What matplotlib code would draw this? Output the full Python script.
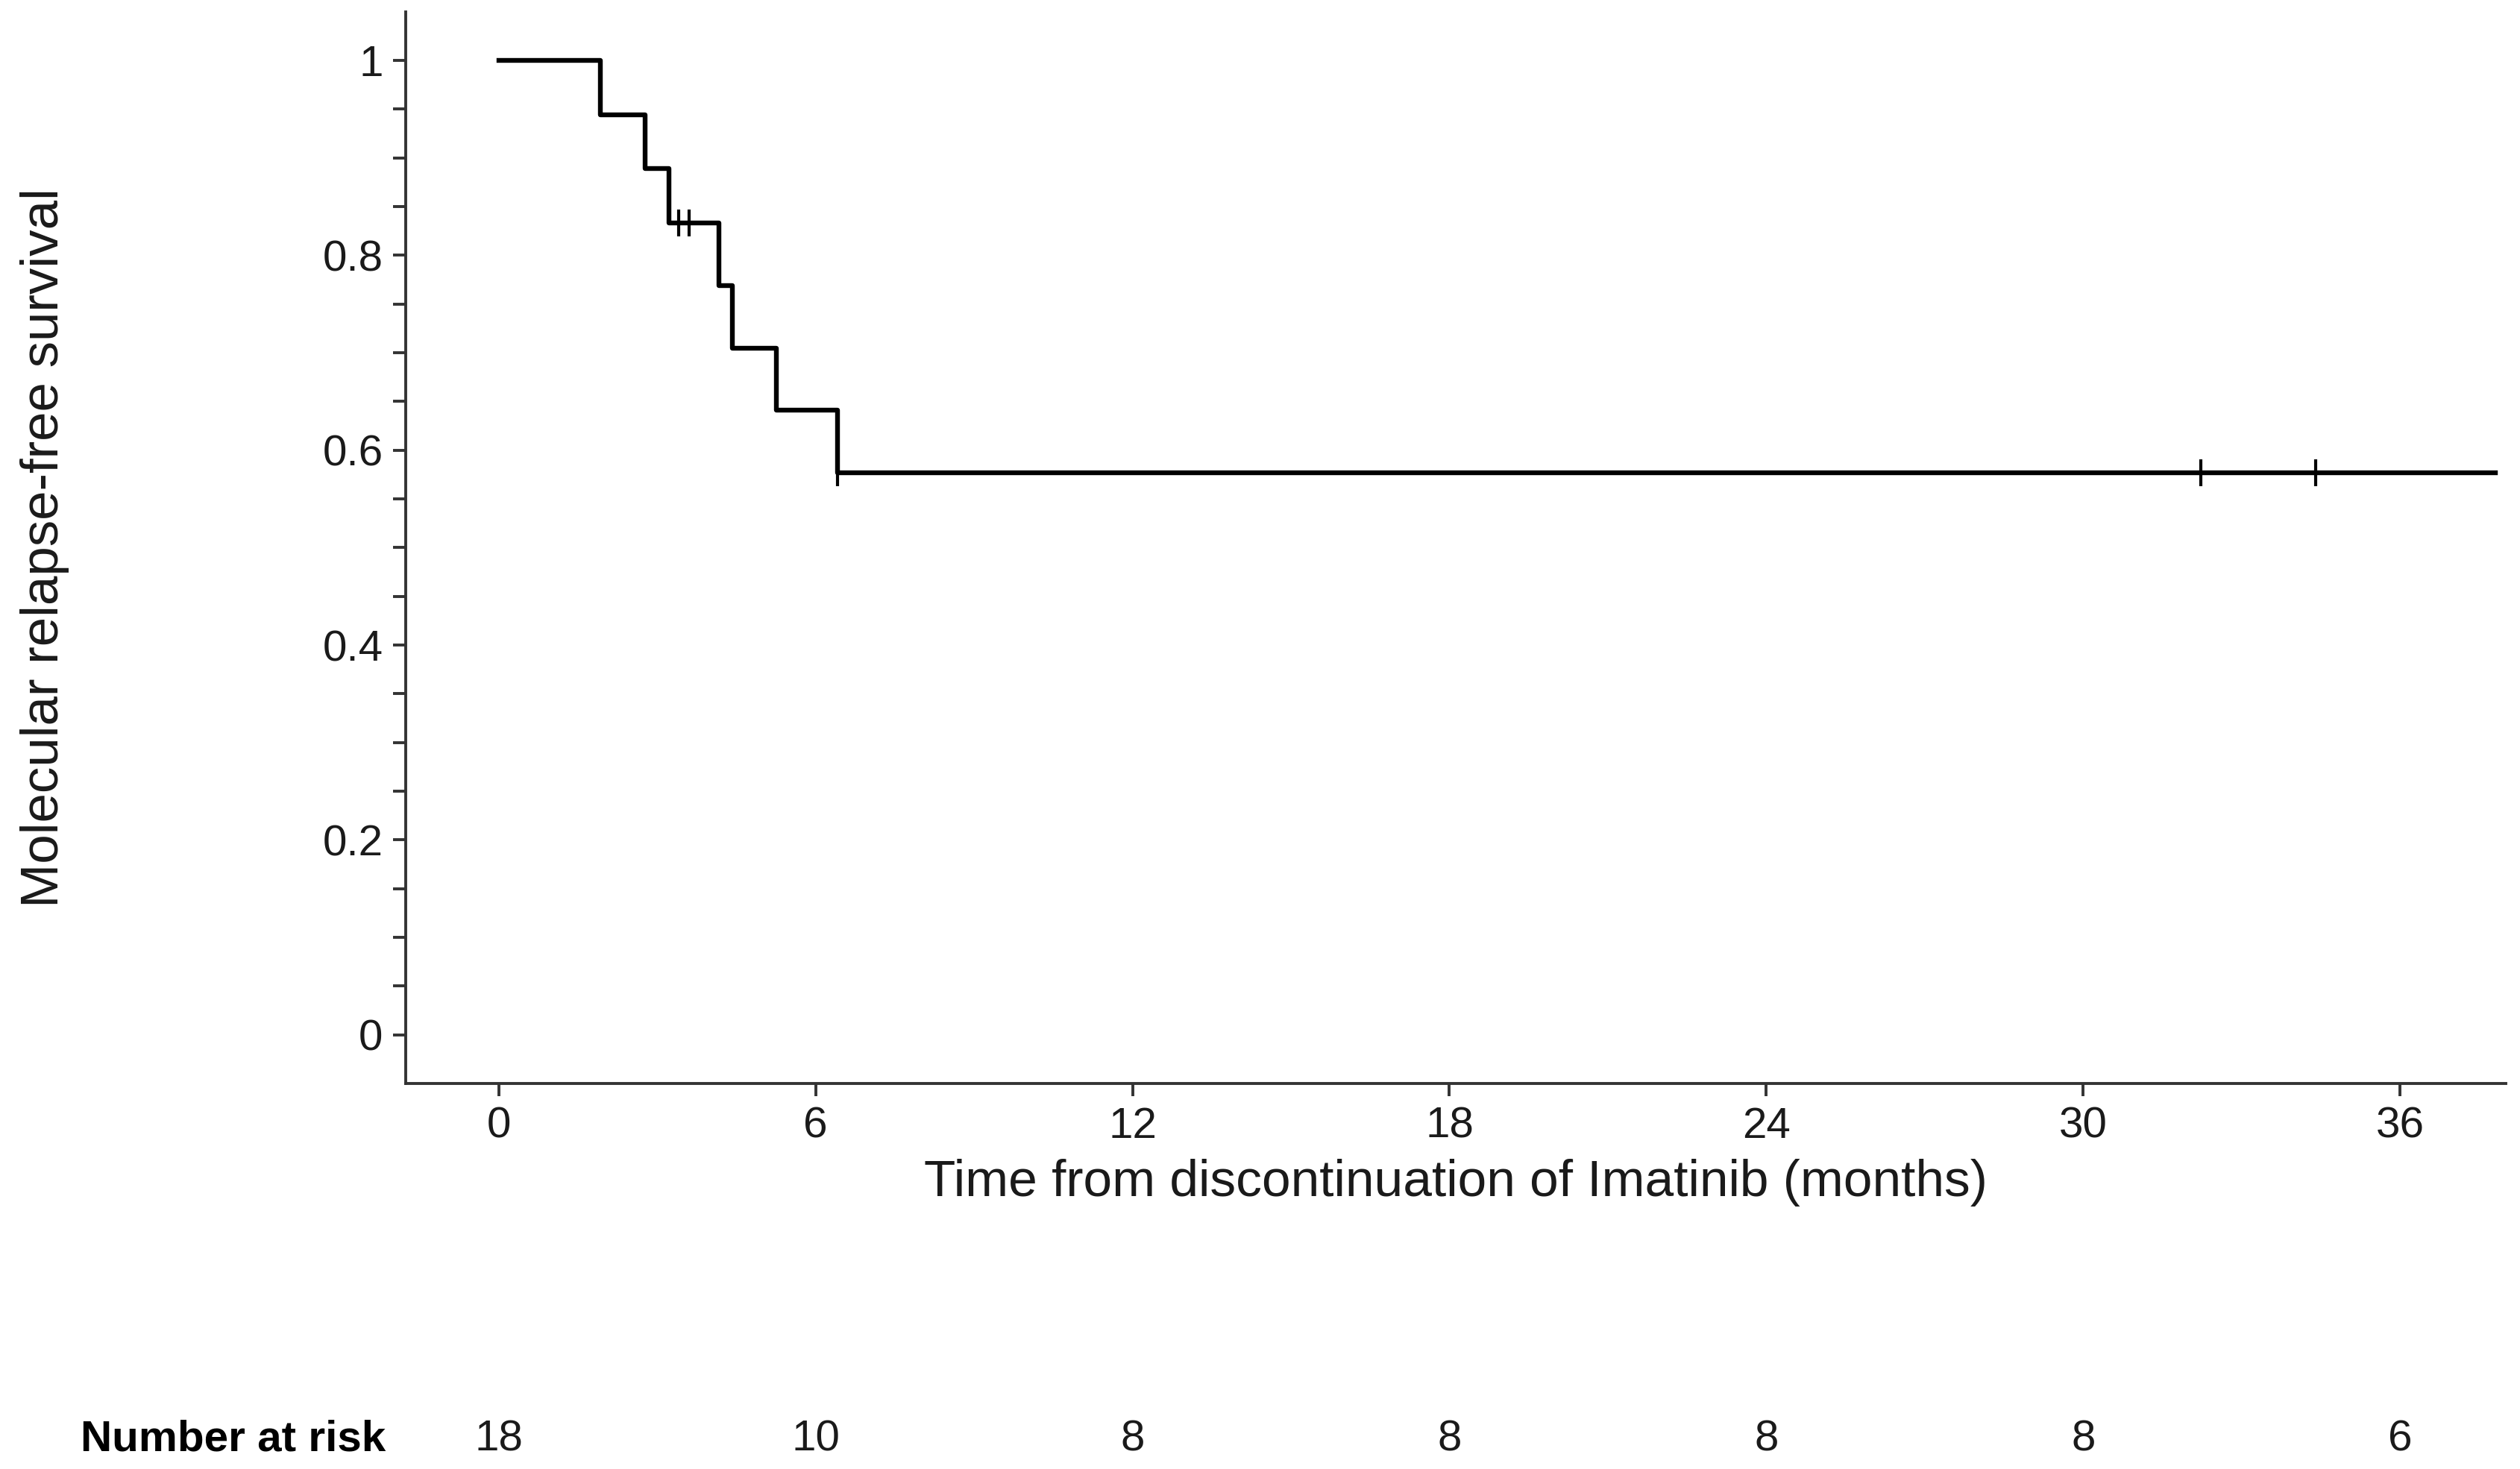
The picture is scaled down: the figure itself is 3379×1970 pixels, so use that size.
"""
Kaplan-Meier curve: molecular relapse-free survival after imatinib stop
"""

import matplotlib.pyplot as plt
import numpy as np

plt.rcParams['font.family'] = ['Liberation Sans', 'DejaVu Sans']

# Données
step_times = [0, 1.93, 2.77, 3.22, 4.17, 4.42, 5.25, 6.42, 37.8]
step_surv = [1.0, 0.944, 0.889, 0.833, 0.769, 0.705, 0.641, 0.577, 0.577]
censor_times = [3.41, 3.60, 6.42, 32.23, 34.4]

risk_times = [0, 6, 12, 18, 24, 30, 36]
risk_counts = [18, 10, 8, 8, 8, 8, 6]

x_ticks = [0, 6, 12, 18, 24, 30, 36]
y_ticks = [0, 0.2, 0.4, 0.6, 0.8, 1]
y_tick_labels = ['0', '0.2', '0.4', '0.6', '0.8', '1']

# Survie au moment de chaque censure (lecture sur la courbe en escalier)
idx = np.searchsorted(step_times, censor_times, side='right') - 1
censor_surv = [step_surv[i] for i in idx]

axis_col = '#333333'
text_col = '#1a1a1a'

fig = plt.figure(figsize=(16.9, 9.85), dpi=200)
ax = fig.add_axes([0.161, 0.2624, 0.833, 0.7296])

ax.step(step_times, step_surv, where='post', color='black', lw=2.3)
ax.plot(censor_times, censor_surv, ls='none', marker='|', ms=13,
        mew=1.5, color='black')

ax.set_xlim(-1.76, 38.0)
ax.set_ylim(-0.05, 1.05)
ax.set_xticks(x_ticks)
ax.set_yticks(y_ticks)
ax.set_yticklabels(y_tick_labels)
ax.set_yticks(np.arange(0, 1.001, 0.05), minor=True)

for side in ['top', 'right']:
    ax.spines[side].set_visible(False)
for side in ['left', 'bottom']:
    ax.spines[side].set_color(axis_col)
    ax.spines[side].set_linewidth(1.4)

ax.tick_params(axis='both', which='both', direction='out', length=6,
               width=1.4, color=axis_col, labelsize=21, labelcolor=text_col,
               pad=5)

ax.set_xlabel('Time from discontinuation of Imatinib (months)', fontsize=25,
              color=text_col, labelpad=6)
ax.set_ylabel('Molecular relapse-free survival', fontsize=25.5,
              color=text_col)
ax.yaxis.label.set_va('center')
ax.yaxis.set_label_coords(-0.172, 0.5)

# Nombre de sujets à risque
risk_y = 1 - 1930 / 1970
for t, n in zip(risk_times, risk_counts):
    ax.annotate(str(n), xy=(t, risk_y), xycoords=('data', 'figure fraction'),
                ha='center', va='center', fontsize=21, color=text_col,
                annotation_clip=False)
fig.text(108 / 3380, risk_y, 'Number at risk', ha='left', va='center',
         fontsize=21, fontweight='bold', color='black')

fig.savefig('out.png', dpi=200, facecolor='white')
